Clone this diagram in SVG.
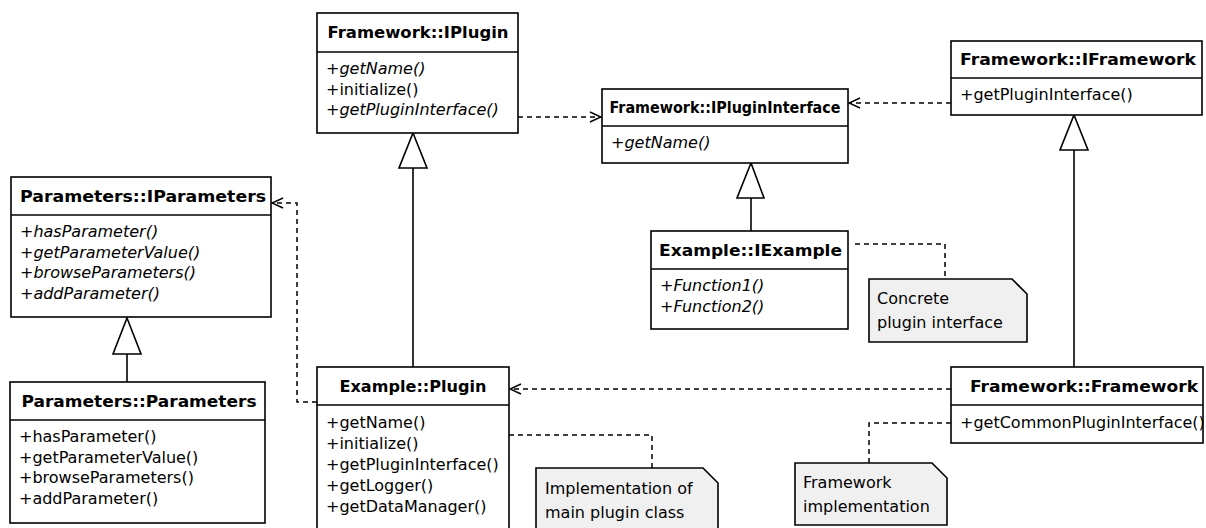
<svg xmlns="http://www.w3.org/2000/svg" width="1206" height="528" viewBox="0 0 1206 528">
<defs>
<style>
.box{fill:#fff;stroke:#000;stroke-width:1.6}
.div{stroke:#000;stroke-width:1.6}
.note{fill:#f0f0f0;stroke:#000;stroke-width:1.6}
.hd{font-family:"DejaVu Sans",sans-serif;font-size:16px;font-weight:bold;text-anchor:middle;fill:#000}
.m{font-family:"DejaVu Sans",sans-serif;font-size:16px;fill:#000}
.i{font-style:italic}
.dash{fill:none;stroke:#000;stroke-width:1.5;stroke-dasharray:5,4}
.solid{fill:none;stroke:#000;stroke-width:1.6}
.tri{fill:#fff;stroke:#000;stroke-width:1.6}
</style>
<marker id="open" viewBox="0 0 14 14" refX="13" refY="7" markerWidth="14" markerHeight="14" markerUnits="userSpaceOnUse" orient="auto">
<path d="M2,2 L13,7 L2,12" fill="none" stroke="#000" stroke-width="1.5"/>
</marker>
</defs>

<g id="connectors">
<path class="dash" d="M518,117 L601,117" marker-end="url(#open)"/>
<path class="dash" d="M951,103 L849,103" marker-end="url(#open)"/>
<path class="dash" d="M951,389 L510,389" marker-end="url(#open)"/>
<path class="dash" d="M317,402 L297,402 L297,203 L272,203" marker-end="url(#open)"/>
<path class="dash" d="M509,435 L652,435 L652,468"/>
<path class="dash" d="M855,244 L945,244 L945,279"/>
<path class="dash" d="M951,423 L869,423 L869,463"/>
<path class="solid" d="M413,168 L413,367"/>
<path class="tri" d="M413,133 L427,168 L399,168 Z"/>
<path class="solid" d="M751,198 L751,231"/>
<path class="tri" d="M751,163 L764,198 L737,198 Z"/>
<path class="solid" d="M127,354 L127,382"/>
<path class="tri" d="M127,318 L141,354 L113,354 Z"/>
<path class="solid" d="M1074,150 L1074,367"/>
<path class="tri" d="M1074,115 L1088,150 L1060,150 Z"/>
</g>

<g id="IPlugin">
<rect class="box" x="317" y="13" width="201" height="120"/>
<line class="div" x1="317" y1="52" x2="518" y2="52"/>
<text class="hd" x="418" y="38" textLength="181" lengthAdjust="spacingAndGlyphs">Framework::IPlugin</text>
<text class="m i" x="326" y="74">+getName()</text>
<text class="m" x="326" y="94.5">+initialize()</text>
<text class="m i" x="326" y="115">+getPluginInterface()</text>
</g>

<g id="IPluginInterface">
<rect class="box" x="602" y="89" width="246" height="74"/>
<line class="div" x1="602" y1="126" x2="848" y2="126"/>
<text class="hd" x="725" y="113" textLength="231" lengthAdjust="spacingAndGlyphs">Framework::IPluginInterface</text>
<text class="m i" x="611" y="148">+getName()</text>
</g>

<g id="IFramework">
<rect class="box" x="951" y="41" width="251" height="74"/>
<line class="div" x1="951" y1="78" x2="1202" y2="78"/>
<text class="hd" x="1078" y="65" textLength="236" lengthAdjust="spacingAndGlyphs">Framework::IFramework</text>
<text class="m" x="960" y="100">+getPluginInterface()</text>
</g>

<g id="IParameters">
<rect class="box" x="11" y="177" width="260" height="140"/>
<line class="div" x1="11" y1="215" x2="271" y2="215"/>
<text class="hd" x="143" y="202" textLength="246" lengthAdjust="spacingAndGlyphs">Parameters::IParameters</text>
<text class="m i" x="20" y="237">+hasParameter()</text>
<text class="m i" x="20" y="257.5">+getParameterValue()</text>
<text class="m i" x="20" y="278">+browseParameters()</text>
<text class="m i" x="20" y="298.5">+addParameter()</text>
</g>

<g id="Parameters">
<rect class="box" x="10" y="382" width="255" height="141"/>
<line class="div" x1="10" y1="420" x2="265" y2="420"/>
<text class="hd" x="139" y="407" textLength="235" lengthAdjust="spacingAndGlyphs">Parameters::Parameters</text>
<text class="m" x="19" y="442">+hasParameter()</text>
<text class="m" x="19" y="462.5">+getParameterValue()</text>
<text class="m" x="19" y="483">+browseParameters()</text>
<text class="m" x="19" y="503.5">+addParameter()</text>
</g>

<g id="Plugin">
<rect class="box" x="317" y="367" width="192" height="175"/>
<line class="div" x1="317" y1="405" x2="509" y2="405"/>
<text class="hd" x="413" y="392" textLength="147" lengthAdjust="spacingAndGlyphs">Example::Plugin</text>
<text class="m" x="326" y="428">+getName()</text>
<text class="m" x="326" y="449">+initialize()</text>
<text class="m" x="326" y="470">+getPluginInterface()</text>
<text class="m" x="326" y="491">+getLogger()</text>
<text class="m" x="326" y="512">+getDataManager()</text>
</g>

<g id="IExample">
<rect class="box" x="651" y="231" width="197" height="98"/>
<line class="div" x1="651" y1="269" x2="848" y2="269"/>
<text class="hd" x="750.5" y="256" textLength="183" lengthAdjust="spacingAndGlyphs">Example::IExample</text>
<text class="m i" x="660" y="291">+Function1()</text>
<text class="m i" x="660" y="311.5">+Function2()</text>
</g>

<g id="Framework">
<rect class="box" x="951" y="367" width="252" height="76"/>
<line class="div" x1="951" y1="405" x2="1203" y2="405"/>
<text class="hd" x="1084" y="392" textLength="228" lengthAdjust="spacingAndGlyphs">Framework::Framework</text>
<text class="m" x="960" y="428">+getCommonPluginInterface()</text>
</g>

<g id="noteConcrete">
<path class="note" d="M869,279 L1012,279 L1027,294 L1027,342 L869,342 Z"/>
<text class="m" x="877" y="304">Concrete</text>
<text class="m" x="877" y="328">plugin interface</text>
</g>

<g id="noteImplementation">
<path class="note" d="M536,468 L703,468 L718,483 L718,540 L536,540 Z"/>
<text class="m" x="545" y="494">Implementation of</text>
<text class="m" x="545" y="518">main plugin class</text>
</g>

<g id="noteFramework">
<path class="note" d="M795,463 L932,463 L947,478 L947,525 L795,525 Z"/>
<text class="m" x="803" y="488">Framework</text>
<text class="m" x="803" y="512">implementation</text>
</g>
</svg>
